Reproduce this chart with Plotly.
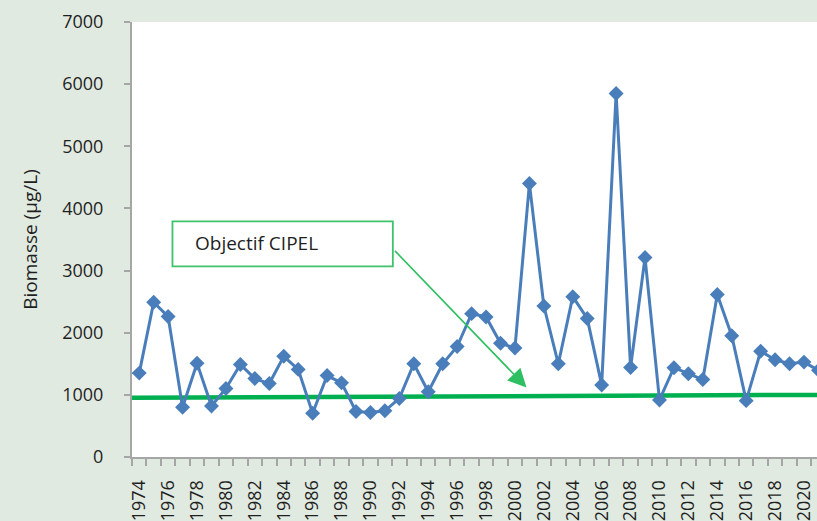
import plotly.graph_objects as go

# Annual mean phytoplankton biomass (µg/L), 1974-2021
years = list(range(1974, 2022))
biomass = [
    1350, 2490, 2260, 800, 1510, 822, 1103, 1490, 1262, 1182,
    1620, 1410, 705, 1310, 1193, 732, 716, 743, 943, 1500,
    1050, 1500, 1777, 2307, 2254, 1829, 1755, 4400, 2429, 1500,
    2580, 2230, 1160, 5850, 1440, 3209, 918, 1437, 1341, 1246,
    2614, 1952, 907, 1702, 1564, 1500, 1527, 1395,
]

# CIPEL target line (drawn by hand on the original chart, very slightly rising)
objective_x = [1973.5, 2021.5]
objective_y = [955, 1000]

y_ticks = [0, 1000, 2000, 3000, 4000, 5000, 6000, 7000]
x_label_years = list(range(1974, 2022, 2))

FONT = "Open Sans"
BLUE = "#4A7EBB"
GREEN = "#00B050"
ARROW_GREEN = "#2EBF62"
AXIS_GREY = "#A6A6A6"
TEXT = "#1F1F1F"

fig = go.Figure()

fig.add_trace(go.Scatter(
    x=objective_x, y=objective_y, mode="lines",
    line=dict(color=GREEN, width=4.5), hoverinfo="skip", showlegend=False,
))

fig.add_trace(go.Scatter(
    x=years, y=biomass, mode="lines+markers",
    line=dict(color=BLUE, width=3),
    marker=dict(symbol="diamond", size=11.5, color=BLUE),
    showlegend=False,
))

# Text box for the target label
fig.add_shape(
    type="rect", xref="x", yref="y",
    x0=1976.3, x1=1991.55, y0=3066, y1=3791,
    line=dict(color="#3CC36C", width=1.8), fillcolor="white", layer="above",
)
fig.add_annotation(
    x=1977.75, y=3440, xref="x", yref="y", xanchor="left", yanchor="middle",
    text="Objectif CIPEL", showarrow=False,
    font=dict(family=FONT, size=19, color=TEXT),
)
# Arrow from the box toward the target line
fig.add_annotation(
    x=2000.8, y=1120, xref="x", yref="y", text="",
    showarrow=True, arrowhead=2, arrowsize=2.3, arrowwidth=1.6,
    arrowcolor=ARROW_GREEN, ax=-133, ay=-138, axref="pixel", ayref="pixel",
)

fig.update_layout(
    width=817, height=521,
    margin=dict(l=132, r=0, t=22, b=60),
    paper_bgcolor="#E1EAE1",
    plot_bgcolor="white",
    font=dict(family=FONT, color=TEXT),
    xaxis=dict(
        range=[1973.5, 2020.9],
        tickmode="array", tickvals=x_label_years,
        ticktext=[str(y) for y in x_label_years],
        tickangle=-90, ticks="", ticklabelstandoff=14,
        tickfont=dict(family=FONT, size=18, color=TEXT),
        showgrid=False, zeroline=False,
        showline=True, linecolor=AXIS_GREY, linewidth=2,
        minor=dict(ticks="outside", tick0=1973.5, dtick=1, ticklen=7,
                   tickcolor=AXIS_GREY, tickwidth=1.5, showgrid=False),
    ),
    yaxis=dict(
        range=[0, 7000], tickmode="array", tickvals=y_ticks,
        ticks="outside", ticklen=6, tickcolor=AXIS_GREY, tickwidth=1.5,
        ticklabelstandoff=17,
        tickfont=dict(family=FONT, size=18, color=TEXT),
        showgrid=False, zeroline=False,
        showline=True, linecolor=AXIS_GREY, linewidth=2,
        title=dict(text="Biomasse (µg/L)", standoff=20,
                   font=dict(family=FONT, size=19, color=TEXT)),
    ),
)

fig.write_html("out.html")
